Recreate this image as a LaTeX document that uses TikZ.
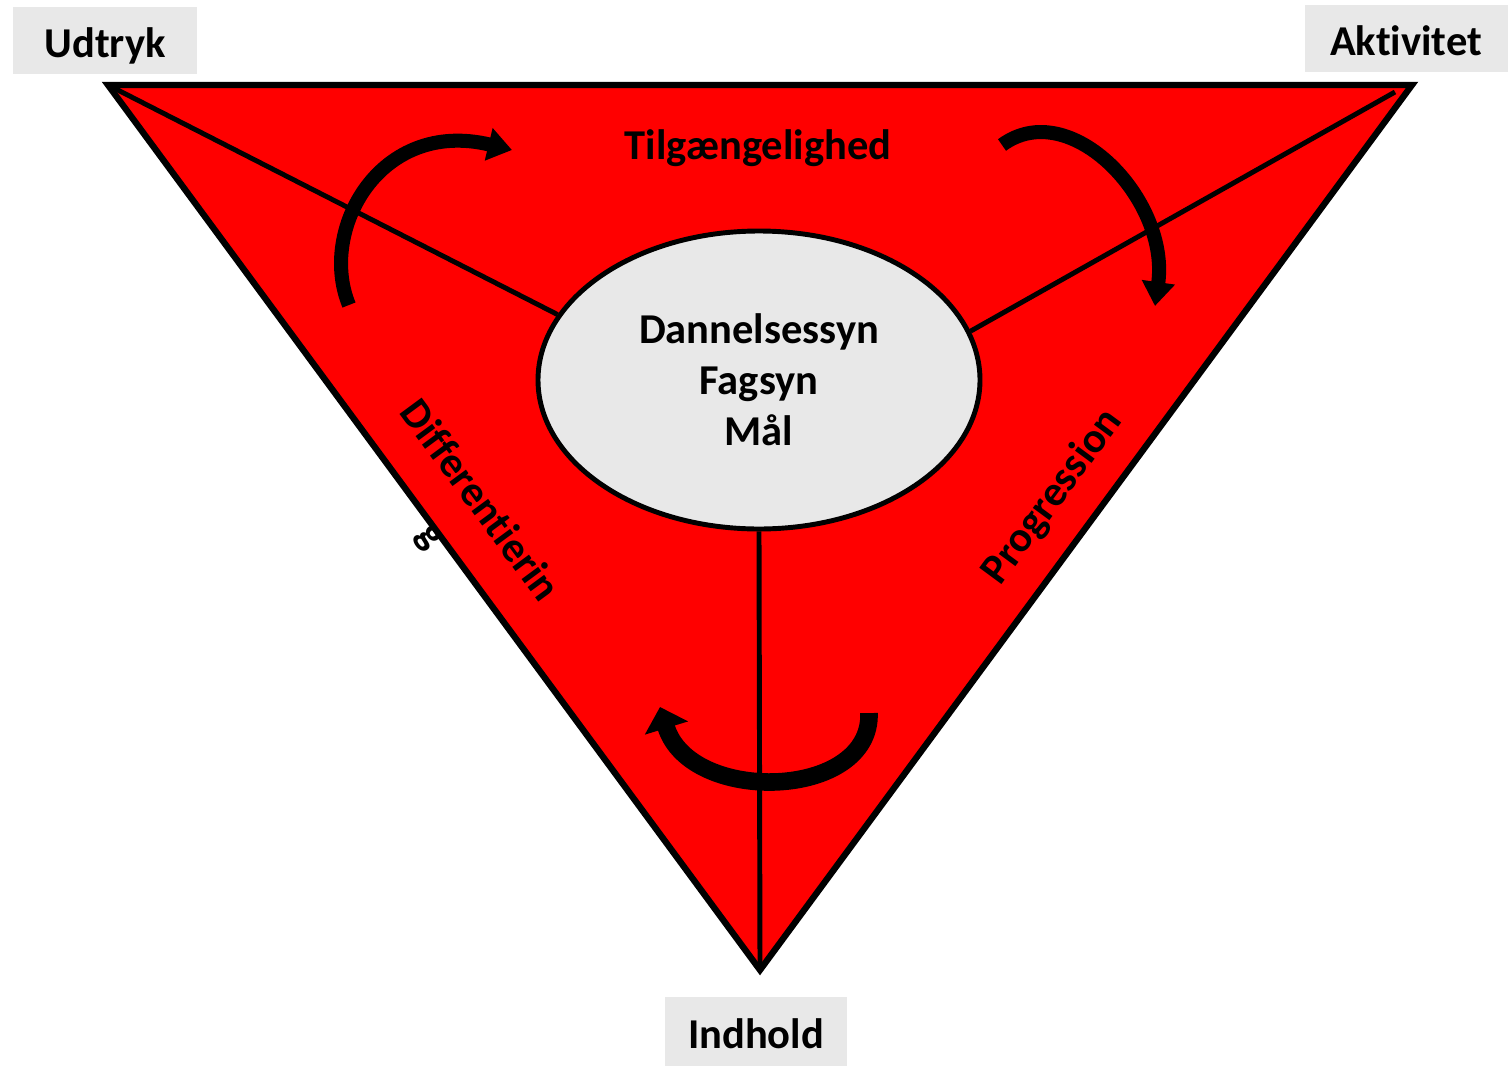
\documentclass[tikz,border=0pt]{standalone}
\usepackage{fontspec}
\setmainfont{Carlito}[Ligatures={NoCommon,NoContextual}, Contextuals=NoAlternate]
\usetikzlibrary{shapes.geometric,arrows.meta}
\definecolor{boxgray}{HTML}{E8E8E8}
\tikzstyle{corner} = [fill=boxgray, inner sep=0pt, minimum height=6.7mm, text height=3.4mm, text depth=0pt, font=\fontsize{12.1}{15}\selectfont\bfseries]
\tikzstyle{sidetext} = [font=\fontsize{12.1}{16.5}\selectfont\bfseries, align=center]
\tikzstyle{spoke} = [line width=1.4pt]
\tikzstyle{turn} = [line width=4pt, -{Triangle[length=2.4mm,width=3.2mm]}]

\begin{document}
\begin{tikzpicture}[x=0.1mm, y=-0.1mm]
		\useasboundingbox (0,0) rectangle (1508,1067);
		% Corners
		\coordinate (U) at (108,85);
		\coordinate (A) at (1412,85);
		\coordinate (I) at (760,970);
		\coordinate (Ain) at (1395,92);
		\draw[line width=1.8pt, fill=red, line join=miter] (U) -- (A) -- (I) -- cycle;
		% Nodes
		\node[corner, minimum width=18.4mm] (udtryk) at (105,40) {Udtryk};
		\node[corner, minimum width=20.3mm] (aktivitet) at (1406,38) {Aktivitet};
		\node[corner, minimum width=18.2mm, minimum height=6.9mm] (indhold) at (756,1031) {Indhold};
		\node[ellipse, draw, line width=1.4pt, fill=boxgray, minimum width=44.2mm, minimum height=29.8mm,
			sidetext, font=\fontsize{12.1}{14.5}\selectfont\bfseries] (mid) at (759,380) {Dannelsessyn\\Fagsyn\\Mål};
		\node[sidetext] (tilg) at (758,148) {Tilgængelighed};
		\node[sidetext, rotate=53.6] (prog) at (1053,497) {Progression};
		\node[sidetext, rotate=-53.6] (diff) at (455,519) {Differentierin\\g};
		% Spokes
		\draw[spoke] (U) -- (mid.162);
		\draw[spoke] (Ain) -- (mid.13);
		\draw[spoke] (mid.south) -- (I);
		%Arrows
		\coordinate (a1s) at (349,305);
		\coordinate (a1e) at (512,150);
		\coordinate (a2s) at (1002,145);
		\coordinate (a2e) at (1155,306);
		\coordinate (a3s) at (869,713);
		\coordinate (a3e) at (660,707);
		\draw[turn] (a1s) .. controls (318,230) and (380,118) .. (a1e);
		\draw[turn] (a2s) .. controls (1070,95) and (1170,200) .. (a2e);
		\draw[turn, line width=5pt, -{Triangle[length=2.2mm,width=4.4mm]}] (a3s) .. controls (872,800) and (690,805) .. (a3e);
\end{tikzpicture}
\end{document}
